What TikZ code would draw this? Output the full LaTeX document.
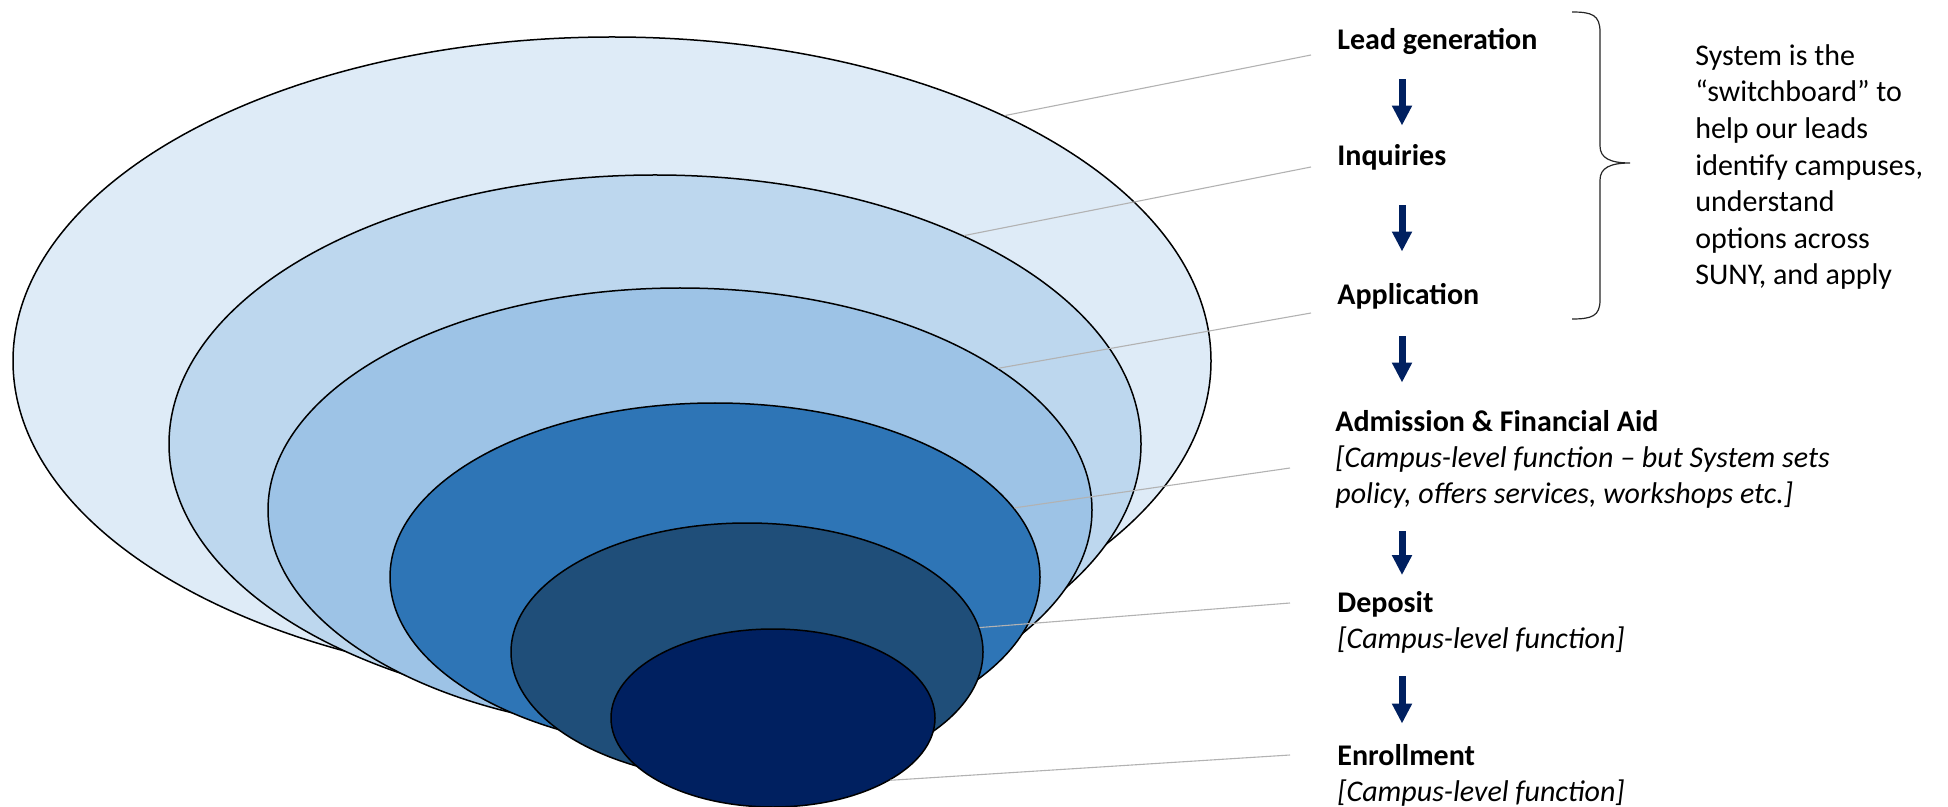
\documentclass[tikz,border=0pt]{standalone}
\usepackage{fontspec}
\setmainfont{Carlito}
\usepackage{tikz}
\usetikzlibrary{arrows.meta}
\usetikzlibrary{shapes.geometric}
\usepackage{xcolor}
\definecolor{tier1}{RGB}{222,235,247}
\definecolor{tier2}{RGB}{189,215,238}
\definecolor{tier3}{RGB}{157,195,230}
\definecolor{tier4}{RGB}{46,117,182}
\definecolor{tier5}{RGB}{31,78,121}
\definecolor{tier6}{RGB}{0,32,96}
\definecolor{navy}{RGB}{0,32,96}

\tikzset{
  layer/.style={ellipse,draw=black,line width=0.75pt,inner sep=0pt},
  leader/.style={draw=black!30,line width=0.55pt},
  stage/.style={anchor=base west,inner sep=0pt,align=left,font=\fontsize{15pt}{18pt}\selectfont\bfseries},
  flow/.style={draw=navy,line width=3.5pt,-{Triangle[width=9.5pt,length=10pt]}},
}

\begin{document}
\begin{tikzpicture}[x=0.5pt,y=-0.5pt]
			\useasboundingbox (0,0) rectangle (1948,807);

			\node(e1) at (612,361)[layer,fill=tier1,minimum width=599pt,minimum height=324pt]{};
			\node(e2) at (655,444)[layer,fill=tier2,minimum width=486pt,minimum height=269pt]{};
			\node(e3) at (680,510)[layer,fill=tier3,minimum width=412pt,minimum height=222pt]{};
			\node(e4) at (715,577)[layer,fill=tier4,minimum width=325pt,minimum height=174pt]{};
			\node(e5) at (747,652)[layer,fill=tier5,minimum width=236pt,minimum height=129pt]{};
			\node(e6) at (773,718)[layer,fill=tier6,minimum width=162pt,minimum height=89pt]{};

			% multi-line nodes sit on the baseline of their last line
			\node(lead) at (1337,50)[stage]{Lead generation};
			\node(inq) at (1337,166)[stage]{Inquiries};
			\node(app) at (1337,305)[stage]{Application};
			\node(adm) at (1335,503)[stage]{Admission \& Financial Aid\\{\normalfont\itshape [Campus-level function – but System sets}\\{\normalfont\itshape policy, offers services, workshops etc.]}};
			\node(dep) at (1337,648)[stage]{Deposit\\{\normalfont\itshape [Campus-level function]}};
			\node(enr) at (1337,801)[stage]{Enrollment\\{\normalfont\itshape [Campus-level function]}};
			\node(note) at (1695,285)[anchor=base west,inner sep=0pt,align=left,font=\fontsize{15pt}{18.3pt}\selectfont]{System is the\\“switchboard” to\\help our leads\\identify campuses,\\understand\\options across\\SUNY, and apply};

			\coordinate(t1) at (1311,55);
			\coordinate(t2) at (1311,167);
			\coordinate(t3) at (1311,313);
			\coordinate(t4) at (1290,468);
			\coordinate(t5) at (1290,603);
			\coordinate(t6) at (1290,755);
			\coordinate(ax) at (1402,0);

			\draw[leader](e1.32) -- (t1);
			\draw[leader](e2.34) -- (t2);
			\draw[leader](e3.24) -- (t3);
			\draw[leader](e4.13) -- (t4);
			\draw[leader](e5.6) -- (t5);
			\draw[leader](e6.-28) -- (t6);

			\draw[flow,shorten <=12pt,shorten >=9.5pt](lead.south -| ax) -- (inq.north -| ax);
			\draw[flow,shorten <=17pt,shorten >=16pt](inq.south -| ax) -- (app.north -| ax);
			\draw[flow,shorten <=13pt,shorten >=13.5pt](app.south -| ax) -- (adm.north -| ax);
			\draw[flow,shorten <=11.5pt,shorten >=7.75pt](adm.south -| ax) -- (dep.north -| ax);
			\draw[flow,shorten <=11.5pt,shorten >=10pt](dep.south -| ax) -- (enr.north -| ax);

			\draw[black!85,line width=0.6pt](1572,12) .. controls (1592,12) and (1600,15) .. (1600,32) -- (1600,146) .. controls (1600,158) and (1610,163) .. (1630,163) .. controls (1610,163) and (1600,168) .. (1600,180) -- (1600,300) .. controls (1600,316) and (1592,319) .. (1572,319);
		\end{tikzpicture}
\end{document}
